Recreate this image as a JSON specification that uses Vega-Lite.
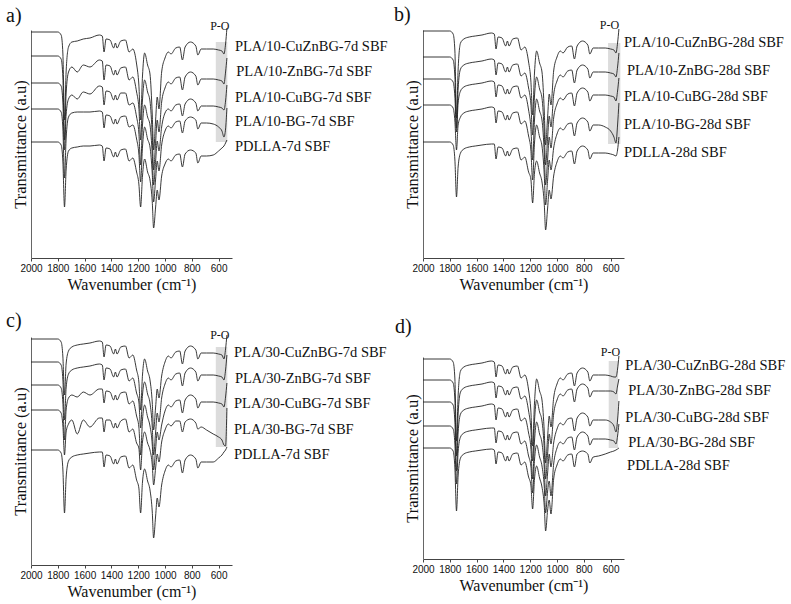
{
"$schema":"https://vega.github.io/schema/vega-lite/v6.json",
"padding":{"left":6,"top":5,"right":5,"bottom":5},
"background":"white",
"config":{
 "view":{"stroke":null},
 "axis":{"grid":false},
 "axisX":{"tickCount":8,"format":"d","labelFlush":false,"labelOverlap":false,"tickSize":3,"tickColor":"#444","domainColor":"#444","labelFont":"Liberation Sans","labelFontSize":10,"labelColor":"#111","labelPadding":2,"titleFont":"Liberation Serif","titleFontSize":16,"titleFontWeight":"normal","titleColor":"#111","titlePadding":3},
 "axisY":{"labels":false,"ticks":false,"domainColor":"#666","titleFont":"Liberation Serif","titleFontSize":16.5,"titleFontWeight":"normal","titleColor":"#111","titlePadding":3},
 "title":{"font":"Liberation Serif","fontSize":20,"fontWeight":"normal","color":"#111","anchor":"start","frame":"group"}
},
"datasets":{
 "spectra":[
{"p":"a","w":2000,"c1":226,"c2":202,"c3":175,"c4":149,"c5":116},
{"p":"a","w":1800,"c1":226,"c2":202,"c3":175,"c4":149,"c5":116},
{"p":"a","w":1775,"c1":223,"c2":199,"c3":172,"c4":146,"c5":113},
{"p":"a","w":1762,"c1":204,"c2":180,"c3":155,"c4":129,"c5":96},
{"p":"a","w":1750,"c1":138,"c2":118,"c3":108,"c4":80,"c5":51},
{"p":"a","w":1738,"c1":186,"c2":164,"c3":143,"c4":119,"c5":88},
{"p":"a","w":1720,"c1":211,"c2":186,"c3":159,"c4":141,"c5":107},
{"p":"a","w":1695,"c1":216,"c2":191,"c3":163,"c4":145,"c5":110},
{"p":"a","w":1655,"c1":217,"c2":186,"c3":159,"c4":146,"c5":111},
{"p":"a","w":1610,"c1":219,"c2":193,"c3":166,"c4":146,"c5":112},
{"p":"a","w":1560,"c1":220,"c2":191,"c3":164,"c4":146,"c5":112},
{"p":"a","w":1490,"c1":223,"c2":198,"c3":172,"c4":147,"c5":113},
{"p":"a","w":1468,"c1":222,"c2":197,"c3":171,"c4":146,"c5":112},
{"p":"a","w":1455,"c1":206,"c2":178,"c3":153,"c4":130,"c5":97},
{"p":"a","w":1440,"c1":219,"c2":193,"c3":167,"c4":143,"c5":110},
{"p":"a","w":1410,"c1":218,"c2":192,"c3":166,"c4":142,"c5":109},
{"p":"a","w":1383,"c1":210,"c2":183,"c3":158,"c4":134,"c5":101},
{"p":"a","w":1370,"c1":215,"c2":188,"c3":163,"c4":139,"c5":106},
{"p":"a","w":1358,"c1":210,"c2":183,"c3":158,"c4":134,"c5":101},
{"p":"a","w":1330,"c1":217,"c2":190,"c3":165,"c4":141,"c5":108},
{"p":"a","w":1295,"c1":218,"c2":191,"c3":165,"c4":142,"c5":109},
{"p":"a","w":1268,"c1":206,"c2":178,"c3":153,"c4":131,"c5":97},
{"p":"a","w":1240,"c1":209,"c2":181,"c3":155,"c4":133,"c5":100},
{"p":"a","w":1212,"c1":194,"c2":166,"c3":141,"c4":119,"c5":86},
{"p":"a","w":1195,"c1":173,"c2":150,"c3":125,"c4":104,"c5":74},
{"p":"a","w":1182,"c1":138,"c2":118,"c3":93,"c4":76,"c5":51},
{"p":"a","w":1168,"c1":182,"c2":158,"c3":133,"c4":111,"c5":82},
{"p":"a","w":1152,"c1":205,"c2":178,"c3":153,"c4":131,"c5":99},
{"p":"a","w":1130,"c1":193,"c2":166,"c3":141,"c4":119,"c5":86},
{"p":"a","w":1112,"c1":184,"c2":157,"c3":133,"c4":111,"c5":78},
{"p":"a","w":1095,"c1":143,"c2":122,"c3":103,"c4":84,"c5":56},
{"p":"a","w":1085,"c1":108,"c2":88,"c3":73,"c4":56,"c5":30},
{"p":"a","w":1070,"c1":138,"c2":116,"c3":97,"c4":79,"c5":51},
{"p":"a","w":1058,"c1":161,"c2":138,"c3":117,"c4":97,"c5":68},
{"p":"a","w":1045,"c1":149,"c2":126,"c3":107,"c4":87,"c5":58},
{"p":"a","w":1025,"c1":186,"c2":156,"c3":131,"c4":113,"c5":82},
{"p":"a","w":1000,"c1":200,"c2":170,"c3":145,"c4":127,"c5":94},
{"p":"a","w":975,"c1":206,"c2":176,"c3":149,"c4":132,"c5":99},
{"p":"a","w":955,"c1":204,"c2":174,"c3":147,"c4":130,"c5":97},
{"p":"a","w":920,"c1":210,"c2":180,"c3":153,"c4":136,"c5":103},
{"p":"a","w":890,"c1":211,"c2":181,"c3":154,"c4":137,"c5":104},
{"p":"a","w":870,"c1":198,"c2":168,"c3":142,"c4":125,"c5":91},
{"p":"a","w":850,"c1":211,"c2":181,"c3":154,"c4":137,"c5":104},
{"p":"a","w":810,"c1":216,"c2":186,"c3":159,"c4":141,"c5":108},
{"p":"a","w":770,"c1":212,"c2":182,"c3":155,"c4":138,"c5":105},
{"p":"a","w":755,"c1":203,"c2":173,"c3":147,"c4":129,"c5":95},
{"p":"a","w":730,"c1":209,"c2":179,"c3":152,"c4":135,"c5":102},
{"p":"a","w":690,"c1":209,"c2":179,"c3":152,"c4":135,"c5":102},
{"p":"a","w":640,"c1":209,"c2":179,"c3":152,"c4":134,"c5":103},
{"p":"a","w":600,"c1":208,"c2":178,"c3":151,"c4":131,"c5":107},
{"p":"a","w":575,"c1":207,"c2":177,"c3":150,"c4":127,"c5":110},
{"p":"a","w":560,"c1":204,"c2":174,"c3":148,"c4":121,"c5":112},
{"p":"a","w":548,"c1":214,"c2":186,"c3":157,"c4":129,"c5":115},
{"p":"a","w":538,"c1":230,"c2":200,"c3":173,"c4":150,"c5":118},
{"p":"b","w":2000,"c1":227,"c2":201,"c3":179,"c4":153,"c5":116},
{"p":"b","w":1800,"c1":227,"c2":201,"c3":179,"c4":153,"c5":116},
{"p":"b","w":1775,"c1":224,"c2":198,"c3":176,"c4":150,"c5":113},
{"p":"b","w":1762,"c1":207,"c2":181,"c3":161,"c4":137,"c5":98},
{"p":"b","w":1750,"c1":140,"c2":130,"c3":126,"c4":108,"c5":61},
{"p":"b","w":1738,"c1":188,"c2":169,"c3":155,"c4":133,"c5":91},
{"p":"b","w":1720,"c1":215,"c2":189,"c3":167,"c4":141,"c5":105},
{"p":"b","w":1695,"c1":219,"c2":193,"c3":171,"c4":145,"c5":109},
{"p":"b","w":1655,"c1":221,"c2":195,"c3":173,"c4":147,"c5":111},
{"p":"b","w":1610,"c1":222,"c2":196,"c3":174,"c4":148,"c5":112},
{"p":"b","w":1560,"c1":223,"c2":197,"c3":175,"c4":149,"c5":113},
{"p":"b","w":1490,"c1":225,"c2":199,"c3":177,"c4":151,"c5":114},
{"p":"b","w":1468,"c1":224,"c2":198,"c3":176,"c4":150,"c5":114},
{"p":"b","w":1455,"c1":209,"c2":183,"c3":161,"c4":135,"c5":99},
{"p":"b","w":1440,"c1":221,"c2":195,"c3":173,"c4":147,"c5":111},
{"p":"b","w":1410,"c1":220,"c2":194,"c3":172,"c4":146,"c5":110},
{"p":"b","w":1383,"c1":212,"c2":186,"c3":164,"c4":138,"c5":102},
{"p":"b","w":1370,"c1":217,"c2":191,"c3":169,"c4":143,"c5":107},
{"p":"b","w":1358,"c1":212,"c2":186,"c3":164,"c4":138,"c5":102},
{"p":"b","w":1330,"c1":219,"c2":193,"c3":171,"c4":145,"c5":109},
{"p":"b","w":1295,"c1":220,"c2":194,"c3":172,"c4":146,"c5":110},
{"p":"b","w":1268,"c1":208,"c2":182,"c3":160,"c4":134,"c5":98},
{"p":"b","w":1240,"c1":211,"c2":185,"c3":163,"c4":137,"c5":101},
{"p":"b","w":1212,"c1":196,"c2":170,"c3":148,"c4":122,"c5":86},
{"p":"b","w":1195,"c1":177,"c2":154,"c3":130,"c4":108,"c5":79},
{"p":"b","w":1182,"c1":143,"c2":123,"c3":98,"c4":78,"c5":55},
{"p":"b","w":1168,"c1":185,"c2":162,"c3":138,"c4":115,"c5":85},
{"p":"b","w":1152,"c1":207,"c2":181,"c3":159,"c4":133,"c5":97},
{"p":"b","w":1130,"c1":195,"c2":169,"c3":147,"c4":121,"c5":85},
{"p":"b","w":1112,"c1":186,"c2":160,"c3":138,"c4":112,"c5":76},
{"p":"b","w":1095,"c1":147,"c2":125,"c3":105,"c4":83,"c5":54},
{"p":"b","w":1085,"c1":113,"c2":93,"c3":73,"c4":53,"c5":28},
{"p":"b","w":1070,"c1":141,"c2":120,"c3":99,"c4":78,"c5":50},
{"p":"b","w":1058,"c1":164,"c2":142,"c3":121,"c4":98,"c5":68},
{"p":"b","w":1045,"c1":153,"c2":131,"c3":110,"c4":88,"c5":59},
{"p":"b","w":1025,"c1":187,"c2":163,"c3":140,"c4":110,"c5":82},
{"p":"b","w":1000,"c1":201,"c2":177,"c3":154,"c4":124,"c5":96},
{"p":"b","w":975,"c1":207,"c2":183,"c3":160,"c4":130,"c5":102},
{"p":"b","w":955,"c1":205,"c2":181,"c3":158,"c4":128,"c5":100},
{"p":"b","w":920,"c1":211,"c2":187,"c3":164,"c4":134,"c5":106},
{"p":"b","w":890,"c1":212,"c2":188,"c3":165,"c4":135,"c5":107},
{"p":"b","w":870,"c1":199,"c2":175,"c3":152,"c4":122,"c5":94},
{"p":"b","w":850,"c1":212,"c2":188,"c3":165,"c4":135,"c5":107},
{"p":"b","w":810,"c1":217,"c2":193,"c3":170,"c4":140,"c5":112},
{"p":"b","w":770,"c1":213,"c2":189,"c3":166,"c4":136,"c5":108},
{"p":"b","w":755,"c1":204,"c2":180,"c3":157,"c4":127,"c5":99},
{"p":"b","w":730,"c1":210,"c2":186,"c3":163,"c4":133,"c5":105},
{"p":"b","w":690,"c1":210,"c2":186,"c3":163,"c4":133,"c5":105},
{"p":"b","w":640,"c1":210,"c2":186,"c3":163,"c4":131,"c5":105},
{"p":"b","w":600,"c1":209,"c2":185,"c3":162,"c4":127,"c5":104},
{"p":"b","w":575,"c1":208,"c2":184,"c3":161,"c4":121,"c5":103},
{"p":"b","w":560,"c1":205,"c2":181,"c3":157,"c4":115,"c5":102},
{"p":"b","w":548,"c1":215,"c2":191,"c3":167,"c4":133,"c5":108},
{"p":"b","w":538,"c1":229,"c2":205,"c3":180,"c4":155,"c5":121},
{"p":"c","w":2000,"c1":226,"c2":203,"c3":180,"c4":155,"c5":115},
{"p":"c","w":1800,"c1":226,"c2":203,"c3":180,"c4":155,"c5":115},
{"p":"c","w":1775,"c1":223,"c2":200,"c3":177,"c4":152,"c5":112},
{"p":"c","w":1762,"c1":208,"c2":185,"c3":162,"c4":139,"c5":95},
{"p":"c","w":1750,"c1":170,"c2":145,"c3":125,"c4":110,"c5":52},
{"p":"c","w":1738,"c1":201,"c2":177,"c3":155,"c4":133,"c5":87},
{"p":"c","w":1720,"c1":214,"c2":191,"c3":167,"c4":141,"c5":104},
{"p":"c","w":1695,"c1":218,"c2":195,"c3":170,"c4":145,"c5":108},
{"p":"c","w":1655,"c1":220,"c2":197,"c3":168,"c4":131,"c5":110},
{"p":"c","w":1610,"c1":221,"c2":198,"c3":173,"c4":145,"c5":111},
{"p":"c","w":1560,"c1":222,"c2":199,"c3":170,"c4":138,"c5":112},
{"p":"c","w":1490,"c1":224,"c2":201,"c3":176,"c4":147,"c5":113},
{"p":"c","w":1468,"c1":223,"c2":200,"c3":176,"c4":147,"c5":113},
{"p":"c","w":1455,"c1":208,"c2":185,"c3":162,"c4":133,"c5":98},
{"p":"c","w":1440,"c1":220,"c2":197,"c3":174,"c4":145,"c5":110},
{"p":"c","w":1410,"c1":219,"c2":196,"c3":173,"c4":145,"c5":109},
{"p":"c","w":1383,"c1":211,"c2":188,"c3":165,"c4":137,"c5":101},
{"p":"c","w":1370,"c1":216,"c2":193,"c3":170,"c4":142,"c5":106},
{"p":"c","w":1358,"c1":211,"c2":188,"c3":165,"c4":137,"c5":101},
{"p":"c","w":1330,"c1":218,"c2":195,"c3":172,"c4":144,"c5":108},
{"p":"c","w":1295,"c1":219,"c2":196,"c3":173,"c4":146,"c5":109},
{"p":"c","w":1268,"c1":207,"c2":184,"c3":161,"c4":133,"c5":97},
{"p":"c","w":1240,"c1":210,"c2":187,"c3":164,"c4":136,"c5":100},
{"p":"c","w":1212,"c1":195,"c2":172,"c3":149,"c4":122,"c5":85},
{"p":"c","w":1195,"c1":183,"c2":163,"c3":138,"c4":117,"c5":77},
{"p":"c","w":1182,"c1":155,"c2":137,"c3":110,"c4":95,"c5":52},
{"p":"c","w":1168,"c1":190,"c2":170,"c3":145,"c4":123,"c5":83},
{"p":"c","w":1152,"c1":206,"c2":183,"c3":160,"c4":133,"c5":96},
{"p":"c","w":1130,"c1":194,"c2":171,"c3":148,"c4":122,"c5":84},
{"p":"c","w":1112,"c1":185,"c2":162,"c3":139,"c4":115,"c5":75},
{"p":"c","w":1095,"c1":162,"c2":138,"c3":120,"c4":100,"c5":53},
{"p":"c","w":1085,"c1":135,"c2":110,"c3":95,"c4":80,"c5":27},
{"p":"c","w":1070,"c1":158,"c2":133,"c3":116,"c4":97,"c5":49},
{"p":"c","w":1058,"c1":176,"c2":152,"c3":133,"c4":111,"c5":67},
{"p":"c","w":1045,"c1":167,"c2":143,"c3":125,"c4":103,"c5":58},
{"p":"c","w":1025,"c1":189,"c2":167,"c3":140,"c4":123,"c5":80},
{"p":"c","w":1000,"c1":203,"c2":181,"c3":154,"c4":135,"c5":94},
{"p":"c","w":975,"c1":209,"c2":187,"c3":160,"c4":141,"c5":100},
{"p":"c","w":955,"c1":207,"c2":185,"c3":158,"c4":139,"c5":98},
{"p":"c","w":920,"c1":213,"c2":191,"c3":164,"c4":144,"c5":104},
{"p":"c","w":890,"c1":214,"c2":192,"c3":165,"c4":144,"c5":105},
{"p":"c","w":870,"c1":201,"c2":179,"c3":152,"c4":133,"c5":92},
{"p":"c","w":850,"c1":214,"c2":192,"c3":165,"c4":143,"c5":105},
{"p":"c","w":810,"c1":219,"c2":197,"c3":170,"c4":146,"c5":110},
{"p":"c","w":770,"c1":215,"c2":193,"c3":166,"c4":142,"c5":106},
{"p":"c","w":755,"c1":206,"c2":184,"c3":157,"c4":136,"c5":97},
{"p":"c","w":730,"c1":212,"c2":190,"c3":163,"c4":138,"c5":103},
{"p":"c","w":690,"c1":212,"c2":190,"c3":163,"c4":135,"c5":103},
{"p":"c","w":640,"c1":212,"c2":190,"c3":163,"c4":131,"c5":103},
{"p":"c","w":600,"c1":211,"c2":189,"c3":162,"c4":128,"c5":107},
{"p":"c","w":575,"c1":210,"c2":188,"c3":161,"c4":125,"c5":110},
{"p":"c","w":560,"c1":206,"c2":185,"c3":158,"c4":120,"c5":113},
{"p":"c","w":548,"c1":216,"c2":195,"c3":168,"c4":119,"c5":115},
{"p":"c","w":538,"c1":230,"c2":210,"c3":182,"c4":157,"c5":118},
{"p":"d","w":2000,"c1":200,"c2":179,"c3":157,"c4":133,"c5":111},
{"p":"d","w":1800,"c1":200,"c2":179,"c3":157,"c4":133,"c5":111},
{"p":"d","w":1775,"c1":197,"c2":176,"c3":154,"c4":130,"c5":108},
{"p":"d","w":1762,"c1":180,"c2":159,"c3":137,"c4":115,"c5":91},
{"p":"d","w":1750,"c1":118,"c2":103,"c3":88,"c4":75,"c5":48},
{"p":"d","w":1738,"c1":163,"c2":145,"c3":126,"c4":107,"c5":83},
{"p":"d","w":1720,"c1":188,"c2":167,"c3":145,"c4":122,"c5":101},
{"p":"d","w":1695,"c1":192,"c2":171,"c3":149,"c4":126,"c5":105},
{"p":"d","w":1655,"c1":194,"c2":173,"c3":151,"c4":128,"c5":107},
{"p":"d","w":1610,"c1":195,"c2":174,"c3":152,"c4":129,"c5":108},
{"p":"d","w":1560,"c1":196,"c2":175,"c3":153,"c4":130,"c5":109},
{"p":"d","w":1490,"c1":198,"c2":177,"c3":155,"c4":131,"c5":110},
{"p":"d","w":1468,"c1":197,"c2":176,"c3":154,"c4":131,"c5":109},
{"p":"d","w":1455,"c1":182,"c2":161,"c3":139,"c4":116,"c5":95},
{"p":"d","w":1440,"c1":194,"c2":173,"c3":151,"c4":128,"c5":107},
{"p":"d","w":1410,"c1":193,"c2":172,"c3":150,"c4":127,"c5":106},
{"p":"d","w":1383,"c1":185,"c2":164,"c3":142,"c4":119,"c5":98},
{"p":"d","w":1370,"c1":190,"c2":169,"c3":147,"c4":124,"c5":103},
{"p":"d","w":1358,"c1":185,"c2":164,"c3":142,"c4":119,"c5":98},
{"p":"d","w":1330,"c1":192,"c2":171,"c3":149,"c4":126,"c5":105},
{"p":"d","w":1295,"c1":193,"c2":172,"c3":150,"c4":127,"c5":106},
{"p":"d","w":1268,"c1":181,"c2":160,"c3":138,"c4":115,"c5":94},
{"p":"d","w":1240,"c1":184,"c2":163,"c3":141,"c4":118,"c5":97},
{"p":"d","w":1212,"c1":169,"c2":148,"c3":126,"c4":103,"c5":82},
{"p":"d","w":1195,"c1":148,"c2":130,"c3":111,"c4":93,"c5":74},
{"p":"d","w":1182,"c1":113,"c2":98,"c3":80,"c4":66,"c5":50},
{"p":"d","w":1168,"c1":156,"c2":138,"c3":118,"c4":99,"c5":80},
{"p":"d","w":1152,"c1":180,"c2":159,"c3":137,"c4":114,"c5":93},
{"p":"d","w":1130,"c1":168,"c2":147,"c3":125,"c4":102,"c5":81},
{"p":"d","w":1112,"c1":159,"c2":138,"c3":116,"c4":93,"c5":72},
{"p":"d","w":1095,"c1":127,"c2":110,"c3":91,"c4":72,"c5":53},
{"p":"d","w":1085,"c1":96,"c2":80,"c3":63,"c4":46,"c5":28},
{"p":"d","w":1070,"c1":122,"c2":105,"c3":86,"c4":68,"c5":49},
{"p":"d","w":1058,"c1":143,"c2":125,"c3":105,"c4":78,"c5":59},
{"p":"d","w":1045,"c1":132,"c2":115,"c3":92,"c4":63,"c5":45},
{"p":"d","w":1025,"c1":161,"c2":145,"c3":116,"c4":95,"c5":80},
{"p":"d","w":1000,"c1":175,"c2":159,"c3":130,"c4":111,"c5":94},
{"p":"d","w":975,"c1":181,"c2":165,"c3":136,"c4":117,"c5":100},
{"p":"d","w":955,"c1":179,"c2":163,"c3":134,"c4":115,"c5":98},
{"p":"d","w":920,"c1":185,"c2":169,"c3":140,"c4":121,"c5":104},
{"p":"d","w":890,"c1":186,"c2":170,"c3":141,"c4":122,"c5":105},
{"p":"d","w":870,"c1":173,"c2":157,"c3":128,"c4":109,"c5":92},
{"p":"d","w":850,"c1":186,"c2":170,"c3":141,"c4":122,"c5":105},
{"p":"d","w":810,"c1":191,"c2":175,"c3":146,"c4":127,"c5":108},
{"p":"d","w":770,"c1":187,"c2":171,"c3":142,"c4":123,"c5":105},
{"p":"d","w":755,"c1":178,"c2":162,"c3":133,"c4":114,"c5":96},
{"p":"d","w":730,"c1":184,"c2":168,"c3":139,"c4":120,"c5":102},
{"p":"d","w":690,"c1":184,"c2":168,"c3":139,"c4":120,"c5":103},
{"p":"d","w":640,"c1":184,"c2":168,"c3":139,"c4":120,"c5":105},
{"p":"d","w":600,"c1":183,"c2":168,"c3":137,"c4":119,"c5":107},
{"p":"d","w":575,"c1":182,"c2":167,"c3":133,"c4":118,"c5":108},
{"p":"d","w":560,"c1":182,"c2":165,"c3":127,"c4":115,"c5":109},
{"p":"d","w":548,"c1":190,"c2":173,"c3":139,"c4":123,"c5":110},
{"p":"d","w":538,"c1":203,"c2":180,"c3":158,"c4":135,"c5":111}
 ],
 "bands":[
{"p":"a","w1":621,"w2":535,"T1":116,"T2":216},
{"p":"b","w1":619,"w2":527,"T1":114,"T2":215},
{"p":"c","w1":621,"w2":535,"T1":118,"T2":218},
{"p":"d","w1":614,"w2":544,"T1":111,"T2":198}
 ],
 "notes":[
{"p":"a","kind":"po","w":591,"T":232,"label":"P-O"},
{"p":"a","kind":"sample","w":478,"T":211,"label":"PLA/10-CuZnBG-7d SBF"},
{"p":"a","kind":"sample","w":468,"T":186,"label":"PLA/10-ZnBG-7d SBF"},
{"p":"a","kind":"sample","w":478,"T":160,"label":"PLA/10-CuBG-7d SBF"},
{"p":"a","kind":"sample","w":478,"T":136,"label":"PLA/10-BG-7d SBF"},
{"p":"a","kind":"sample","w":478,"T":111,"label":"PDLLA-7d SBF"},
{"p":"b","kind":"po","w":608,"T":233,"label":"P-O"},
{"p":"b","kind":"sample","w":500,"T":215,"label":"PLA/10-CuZnBG-28d SBF"},
{"p":"b","kind":"sample","w":478,"T":187,"label":"PLA/10-ZnBG-28d SBF"},
{"p":"b","kind":"sample","w":500,"T":161,"label":"PLA/10-CuBG-28d SBF"},
{"p":"b","kind":"sample","w":500,"T":133,"label":"PLA/10-BG-28d SBF"},
{"p":"b","kind":"sample","w":500,"T":105,"label":"PDLLA-28d SBF"},
{"p":"c","kind":"po","w":591,"T":230,"label":"P-O"},
{"p":"c","kind":"sample","w":485,"T":212,"label":"PLA/30-CuZnBG-7d SBF"},
{"p":"c","kind":"sample","w":478,"T":186,"label":"PLA/30-ZnBG-7d SBF"},
{"p":"c","kind":"sample","w":485,"T":161,"label":"PLA/30-CuBG-7d SBF"},
{"p":"c","kind":"sample","w":485,"T":135,"label":"PLA/30-BG-7d SBF"},
{"p":"c","kind":"sample","w":485,"T":110,"label":"PDLLA-7d SBF"},
{"p":"d","kind":"po","w":601,"T":207,"label":"P-O"},
{"p":"d","kind":"sample","w":490,"T":193,"label":"PLA/30-CuZnBG-28d SBF"},
{"p":"d","kind":"sample","w":469,"T":168,"label":"PLA/30-ZnBG-28d SBF"},
{"p":"d","kind":"sample","w":490,"T":141,"label":"PLA/30-CuBG-28d SBF"},
{"p":"d","kind":"sample","w":469,"T":116,"label":"PLA/30-BG-28d SBF"},
{"p":"d","kind":"sample","w":477,"T":93,"label":"PDLLA-28d SBF"}
 ]
},
"hconcat":[
 {"vconcat":[
  {"width":201,"height":228,"title":{"text":"a)","dx":-25,"offset":-6},
   "layer":[
    {"data":{"name":"bands"},"transform":[{"filter":"datum.p==='a'"}],"mark":{"type":"rect","color":"#dcdcdc"},
     "encoding":{"x":{"field":"w1","type":"quantitative","title":"Wavenumber (cm⁻¹)","scale":{"domain":[2000,500],"nice":false,"zero":false}},"x2":{"field":"w2"},"y":{"field":"T1","type":"quantitative","title":"Transmittance (a.u)","scale":{"domain":[0,228],"nice":false,"zero":false}},"y2":{"field":"T2"}}},
    {"data":{"name":"spectra"},"transform":[{"filter":"datum.p==='a'"},{"fold":["c1","c2","c3","c4","c5"],"as":["curve","T"]}],"mark":{"type":"line","color":"#222","strokeWidth":0.9,"interpolate":"monotone","clip":false},
     "encoding":{"x":{"field":"w","type":"quantitative","title":"Wavenumber (cm⁻¹)","scale":{"domain":[2000,500],"nice":false,"zero":false}},"y":{"field":"T","type":"quantitative","title":"Transmittance (a.u)","scale":{"domain":[0,228],"nice":false,"zero":false}},"detail":{"field":"curve"}}},
    {"data":{"name":"notes"},"transform":[{"filter":"datum.p==='a' && datum.kind==='sample'"}],"mark":{"type":"text","align":"left","baseline":"middle","font":"Liberation Serif","fontSize":14.5,"color":"#111","clip":false},
     "encoding":{"x":{"field":"w","type":"quantitative","title":"Wavenumber (cm⁻¹)","scale":{"domain":[2000,500],"nice":false,"zero":false}},"y":{"field":"T","type":"quantitative","title":"Transmittance (a.u)","scale":{"domain":[0,228],"nice":false,"zero":false}},"text":{"field":"label"}}},
    {"data":{"name":"notes"},"transform":[{"filter":"datum.p==='a' && datum.kind==='po'"}],"mark":{"type":"text","align":"center","baseline":"middle","font":"Liberation Serif","fontSize":12,"color":"#111","clip":false},
     "encoding":{"x":{"field":"w","type":"quantitative","title":"Wavenumber (cm⁻¹)","scale":{"domain":[2000,500],"nice":false,"zero":false}},"y":{"field":"T","type":"quantitative","title":"Transmittance (a.u)","scale":{"domain":[0,228],"nice":false,"zero":false}},"text":{"field":"label"}}}
   ]},
  {"width":201,"height":228,"title":{"text":"c)","dx":-25,"offset":-2},
   "layer":[
    {"data":{"name":"bands"},"transform":[{"filter":"datum.p==='c'"}],"mark":{"type":"rect","color":"#dcdcdc"},
     "encoding":{"x":{"field":"w1","type":"quantitative","title":"Wavenumber (cm⁻¹)","scale":{"domain":[2000,500],"nice":false,"zero":false}},"x2":{"field":"w2"},"y":{"field":"T1","type":"quantitative","title":"Transmittance (a.u)","scale":{"domain":[0,228],"nice":false,"zero":false}},"y2":{"field":"T2"}}},
    {"data":{"name":"spectra"},"transform":[{"filter":"datum.p==='c'"},{"fold":["c1","c2","c3","c4","c5"],"as":["curve","T"]}],"mark":{"type":"line","color":"#222","strokeWidth":0.9,"interpolate":"monotone","clip":false},
     "encoding":{"x":{"field":"w","type":"quantitative","title":"Wavenumber (cm⁻¹)","scale":{"domain":[2000,500],"nice":false,"zero":false}},"y":{"field":"T","type":"quantitative","title":"Transmittance (a.u)","scale":{"domain":[0,228],"nice":false,"zero":false}},"detail":{"field":"curve"}}},
    {"data":{"name":"notes"},"transform":[{"filter":"datum.p==='c' && datum.kind==='sample'"}],"mark":{"type":"text","align":"left","baseline":"middle","font":"Liberation Serif","fontSize":14.5,"color":"#111","clip":false},
     "encoding":{"x":{"field":"w","type":"quantitative","title":"Wavenumber (cm⁻¹)","scale":{"domain":[2000,500],"nice":false,"zero":false}},"y":{"field":"T","type":"quantitative","title":"Transmittance (a.u)","scale":{"domain":[0,228],"nice":false,"zero":false}},"text":{"field":"label"}}},
    {"data":{"name":"notes"},"transform":[{"filter":"datum.p==='c' && datum.kind==='po'"}],"mark":{"type":"text","align":"center","baseline":"middle","font":"Liberation Serif","fontSize":12,"color":"#111","clip":false},
     "encoding":{"x":{"field":"w","type":"quantitative","title":"Wavenumber (cm⁻¹)","scale":{"domain":[2000,500],"nice":false,"zero":false}},"y":{"field":"T","type":"quantitative","title":"Transmittance (a.u)","scale":{"domain":[0,228],"nice":false,"zero":false}},"text":{"field":"label"}}}
   ]}
 ],"spacing":79,"bounds":"flush"},
 {"vconcat":[
  {"width":201,"height":228,"title":{"text":"b)","dx":-29,"offset":-6},
   "layer":[
    {"data":{"name":"bands"},"transform":[{"filter":"datum.p==='b'"}],"mark":{"type":"rect","color":"#dcdcdc"},
     "encoding":{"x":{"field":"w1","type":"quantitative","title":"Wavenumber (cm⁻¹)","scale":{"domain":[2000,500],"nice":false,"zero":false}},"x2":{"field":"w2"},"y":{"field":"T1","type":"quantitative","title":"Transmittance (a.u)","scale":{"domain":[0,228],"nice":false,"zero":false}},"y2":{"field":"T2"}}},
    {"data":{"name":"spectra"},"transform":[{"filter":"datum.p==='b'"},{"fold":["c1","c2","c3","c4","c5"],"as":["curve","T"]}],"mark":{"type":"line","color":"#222","strokeWidth":0.9,"interpolate":"monotone","clip":false},
     "encoding":{"x":{"field":"w","type":"quantitative","title":"Wavenumber (cm⁻¹)","scale":{"domain":[2000,500],"nice":false,"zero":false}},"y":{"field":"T","type":"quantitative","title":"Transmittance (a.u)","scale":{"domain":[0,228],"nice":false,"zero":false}},"detail":{"field":"curve"}}},
    {"data":{"name":"notes"},"transform":[{"filter":"datum.p==='b' && datum.kind==='sample'"}],"mark":{"type":"text","align":"left","baseline":"middle","font":"Liberation Serif","fontSize":14.5,"color":"#111","clip":false},
     "encoding":{"x":{"field":"w","type":"quantitative","title":"Wavenumber (cm⁻¹)","scale":{"domain":[2000,500],"nice":false,"zero":false}},"y":{"field":"T","type":"quantitative","title":"Transmittance (a.u)","scale":{"domain":[0,228],"nice":false,"zero":false}},"text":{"field":"label"}}},
    {"data":{"name":"notes"},"transform":[{"filter":"datum.p==='b' && datum.kind==='po'"}],"mark":{"type":"text","align":"center","baseline":"middle","font":"Liberation Serif","fontSize":12,"color":"#111","clip":false},
     "encoding":{"x":{"field":"w","type":"quantitative","title":"Wavenumber (cm⁻¹)","scale":{"domain":[2000,500],"nice":false,"zero":false}},"y":{"field":"T","type":"quantitative","title":"Transmittance (a.u)","scale":{"domain":[0,228],"nice":false,"zero":false}},"text":{"field":"label"}}}
   ]},
  {"width":201,"height":202,"title":{"text":"d)","dx":-28,"offset":9},
   "layer":[
    {"data":{"name":"bands"},"transform":[{"filter":"datum.p==='d'"}],"mark":{"type":"rect","color":"#dcdcdc"},
     "encoding":{"x":{"field":"w1","type":"quantitative","title":"Wavenumber (cm⁻¹)","scale":{"domain":[2000,500],"nice":false,"zero":false}},"x2":{"field":"w2"},"y":{"field":"T1","type":"quantitative","title":"Transmittance (a.u)","scale":{"domain":[0,202],"nice":false,"zero":false}},"y2":{"field":"T2"}}},
    {"data":{"name":"spectra"},"transform":[{"filter":"datum.p==='d'"},{"fold":["c1","c2","c3","c4","c5"],"as":["curve","T"]}],"mark":{"type":"line","color":"#222","strokeWidth":0.9,"interpolate":"monotone","clip":false},
     "encoding":{"x":{"field":"w","type":"quantitative","title":"Wavenumber (cm⁻¹)","scale":{"domain":[2000,500],"nice":false,"zero":false}},"y":{"field":"T","type":"quantitative","title":"Transmittance (a.u)","scale":{"domain":[0,202],"nice":false,"zero":false}},"detail":{"field":"curve"}}},
    {"data":{"name":"notes"},"transform":[{"filter":"datum.p==='d' && datum.kind==='sample'"}],"mark":{"type":"text","align":"left","baseline":"middle","font":"Liberation Serif","fontSize":14.5,"color":"#111","clip":false},
     "encoding":{"x":{"field":"w","type":"quantitative","title":"Wavenumber (cm⁻¹)","scale":{"domain":[2000,500],"nice":false,"zero":false}},"y":{"field":"T","type":"quantitative","title":"Transmittance (a.u)","scale":{"domain":[0,202],"nice":false,"zero":false}},"text":{"field":"label"}}},
    {"data":{"name":"notes"},"transform":[{"filter":"datum.p==='d' && datum.kind==='po'"}],"mark":{"type":"text","align":"center","baseline":"middle","font":"Liberation Serif","fontSize":12,"color":"#111","clip":false},
     "encoding":{"x":{"field":"w","type":"quantitative","title":"Wavenumber (cm⁻¹)","scale":{"domain":[2000,500],"nice":false,"zero":false}},"y":{"field":"T","type":"quantitative","title":"Transmittance (a.u)","scale":{"domain":[0,202],"nice":false,"zero":false}},"text":{"field":"label"}}}
   ]}
 ],"spacing":99,"bounds":"flush"}
],
"spacing":392,
"bounds":"flush"
}
